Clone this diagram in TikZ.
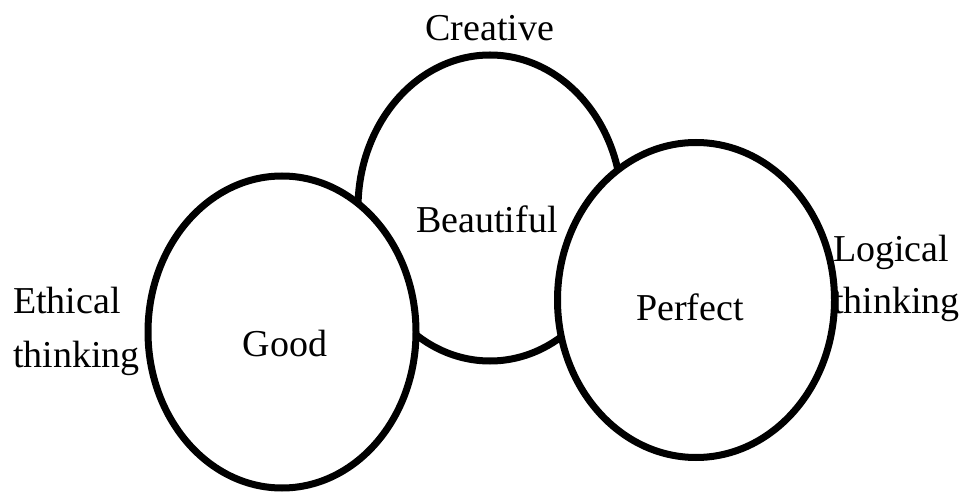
\documentclass[tikz,border=0pt]{standalone}
\usepackage{fontspec}
\setmainfont{Liberation Serif}
\usetikzlibrary{shapes.geometric}
\begin{document}
\begin{tikzpicture}[x=1pt,y=-1pt,
  circ/.style={ellipse,draw=black,line width=7pt,fill=white,inner sep=0pt},
  lbl/.style={font=\fontsize{38}{53}\selectfont,inner sep=0pt}]
\useasboundingbox (0,0) rectangle (964,494);
\node[circ,minimum width=264pt,minimum height=306pt] (beau) at (490,208) {};
\node[circ,minimum width=268pt,minimum height=312pt] (good) at (282,332) {};
\node[circ,minimum width=277pt,minimum height=315pt] (perf) at (696,300) {};
\node[lbl,anchor=base] (tcre) at (490,41) {Creative};
\node[lbl,anchor=base] (tbea) at (487,233) {Beautiful};
\node[lbl,anchor=base] (tgoo) at (285,356) {Good};
\node[lbl,anchor=base] (tper) at (690,320) {Perfect};
\node[lbl,anchor=base west] (teth1) at (13,314) {Ethical};
\node[lbl,anchor=base west] (teth2) at (13,367) {thinking};
\node[lbl,anchor=base west] (tlog1) at (833,262) {Logical};
\node[lbl,anchor=base west] (tlog2) at (833,314) {thinking};
\end{tikzpicture}
\end{document}
